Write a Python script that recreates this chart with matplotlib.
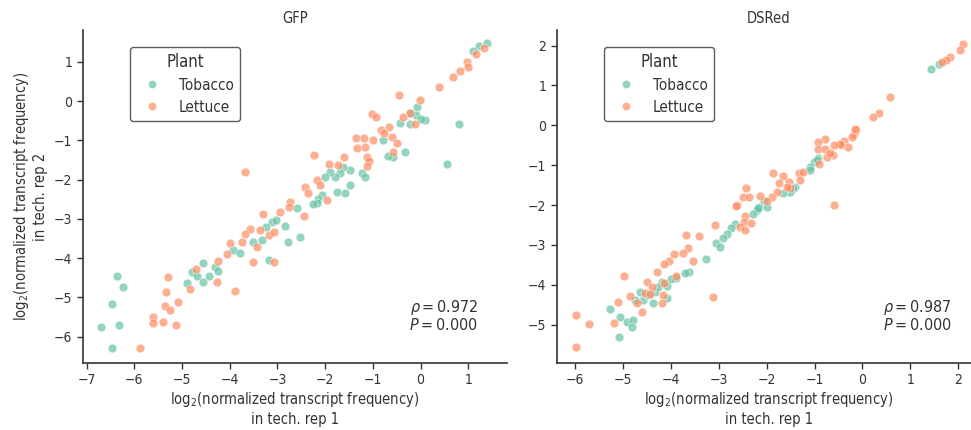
import matplotlib
matplotlib.use("Agg")
import matplotlib.pyplot as plt
from matplotlib.lines import Line2D

plt.rcParams['font.family'] = ['DejaVu Sans']
plt.rcParams['font.stretch'] = 'condensed'
plt.rcParams['mathtext.fontset'] = 'dejavusans'

plants = ['Tobacco', 'Lettuce']
plant_colors = ['#66c2a5', '#fc8d62']
panel_titles = ['GFP', 'DSRed']
rho_values = [0.972, 0.987]
p_values = [0.000, 0.000]

# GFP, tech rep 1 (x) vs tech rep 2 (y)
gfp_tobacco_x = [1.40, 1.23, 1.10, 0.81, 0.55, 0.10, -0.07, -0.22, -0.43, -0.33, -0.57, -0.69,
                 -0.78, -0.23, -0.10, 0.02, -1.48, -1.62, -1.69, -1.79, -1.90, -2.00, -1.23, -1.16,
                 -1.48, -1.76, -1.58, -2.07, -2.14, -2.17, -2.58, -2.25, -3.12, -3.03, -2.84, -3.33,
                 -2.52, -2.77, -3.17, -3.52, -3.92, -3.78, -3.23, -6.37, -6.24, -6.47, -6.33, -6.70,
                 -6.46, -4.89, -4.79, -4.69, -4.55, -4.55, -4.43, -4.31, -4.24]
gfp_tobacco_y = [1.47, 1.40, 1.28, -0.59, -1.59, -0.47, -0.16, -0.59, -0.55, -1.29, -1.43, -1.40,
                 -0.99, -0.30, -0.35, -0.45, -1.76, -1.69, -1.84, -1.93, -1.80, -1.93, -1.82, -1.93,
                 -2.14, -2.31, -2.33, -2.39, -2.50, -2.60, -2.73, -2.62, -3.07, -3.03, -3.17, -3.54,
                 -3.45, -3.60, -4.05, -3.58, -3.79, -3.86, -3.20, -4.45, -4.74, -5.17, -5.69, -5.76,
                 -6.28, -4.64, -4.34, -4.45, -4.13, -4.60, -4.45, -4.22, -4.32]
gfp_lettuce_x = [1.34, 1.17, 0.97, 1.00, 0.82, 0.68, 0.38, -0.46, -0.01, -0.23, -0.36, -1.02,
                 -0.93, -0.83, -0.67, -0.11, -0.76, -0.60, -1.36, -1.18, -1.00, -1.34, -1.16, -0.50,
                 -0.57, -1.13, -1.07, -1.13, -2.23, -1.91, -1.72, -1.60, -3.68, -2.42, -2.35, -2.17,
                 -2.11, -1.97, -2.73, -3.30, -2.94, -2.75, -2.45, -3.57, -3.36, -3.17, -3.68, -3.75,
                 -4.00, -3.43, -4.06, -3.52, -3.07, -3.08, -5.29, -5.33, -5.35, -5.26, -5.08, -5.60,
                 -5.61, -5.39, -5.12, -5.89, -4.84, -4.27, -3.89, -4.70, -4.24]
gfp_lettuce_y = [1.34, 1.20, 1.00, 0.86, 0.77, 0.62, 0.36, 0.15, 0.04, -0.30, -0.41, -0.34,
                 -0.41, -0.74, -0.65, -0.59, -0.82, -0.91, -0.95, -0.95, -0.98, -1.20, -1.16, -1.06,
                 -1.29, -1.42, -1.52, -1.65, -1.38, -1.59, -1.63, -1.43, -1.80, -2.18, -2.35, -2.01,
                 -2.14, -2.52, -2.58, -2.88, -2.82, -2.69, -2.93, -3.27, -3.28, -3.41, -3.38, -3.60,
                 -3.62, -3.72, -3.90, -4.09, -4.10, -3.34, -4.47, -4.85, -5.22, -5.32, -5.11, -5.49,
                 -5.64, -5.62, -5.70, -6.28, -4.78, -4.61, -4.83, -4.28, -4.07]

# DSRed, tech rep 1 (x) vs tech rep 2 (y)
dsred_tobacco_x = [1.44, 1.59, -0.92, -1.02, -1.09, -0.95, -1.10, -1.40, -1.44, -1.51, -1.65, -2.06,
                   -2.15, -2.20, -1.99, -2.29, -2.17, -2.66, -2.75, -2.83, -2.91, -3.05, -2.97, -3.26,
                   -3.61, -3.70, -3.89, -4.00, -4.19, -4.08, -4.33, -4.08, -4.36, -4.57, -4.74, -5.27,
                   -5.06, -4.92, -4.78, -4.81, -5.07, -4.26, -4.64, -4.47]
dsred_tobacco_y = [1.40, 1.55, -0.83, -0.91, -1.04, -0.87, -1.12, -1.54, -1.58, -1.66, -1.70, -1.91,
                   -2.04, -2.12, -2.04, -2.22, -2.08, -2.47, -2.58, -2.72, -2.83, -2.96, -3.04, -3.34,
                   -3.67, -3.71, -3.83, -3.86, -3.92, -4.02, -4.17, -4.34, -4.46, -4.38, -4.38, -4.61,
                   -4.80, -4.92, -4.88, -5.05, -5.30, -4.05, -4.17, -4.25]
dsred_lettuce_x = [2.09, 2.04, 1.82, 1.75, 1.66, 0.57, 0.34, 0.22, -0.13, -0.17, -0.22, -0.39,
                   -0.30, -0.45, -0.78, -0.92, -0.92, -0.78, -0.62, -0.74, -0.90, -0.59, -1.33, -1.23,
                   -1.65, -1.86, -1.54, -1.75, -1.52, -1.79, -1.89, -2.43, -2.50, -2.36, -2.13, -1.99,
                   -2.62, -0.15, -0.46, -0.60, -0.68, -1.31, -1.58, -2.63, -2.46, -2.48, -2.33, -2.55,
                   -2.45, -3.08, -3.68, -3.40, -3.64, -3.75, -3.53, -3.94, -4.03, -4.15, -4.29, -3.89,
                   -4.50, -4.39, -4.14, -4.97, -4.53, -4.43, -4.16, -4.85, -5.09, -4.71, -4.19, -4.60,
                   -5.18, -3.12, -5.98, -5.70, -5.98]
dsred_lettuce_y = [2.04, 1.89, 1.72, 1.64, 1.59, 0.70, 0.30, 0.20, -0.12, -0.22, -0.30, -0.39,
                   -0.55, -0.49, -0.35, -0.41, -0.60, -0.60, -0.74, -0.79, -0.97, -2.00, -1.20, -1.16,
                   -1.26, -1.20, -1.41, -1.45, -1.58, -1.66, -1.79, -1.58, -1.80, -1.80, -1.76, -1.89,
                   -2.00, -0.10, -0.47, -0.49, -0.70, -1.37, -1.54, -2.02, -2.27, -2.42, -2.46, -2.54,
                   -2.62, -2.50, -2.75, -2.77, -3.08, -3.19, -3.39, -3.23, -3.39, -3.48, -3.67, -3.77,
                   -3.92, -4.05, -3.96, -3.78, -4.20, -4.24, -4.25, -4.28, -4.42, -4.45, -4.45, -4.67,
                   -4.96, -4.30, -4.75, -4.98, -5.57]

gfp_xticks = list(range(-7, 2))
gfp_yticks = list(range(-6, 2))
dsred_xticks = list(range(-6, 3))
dsred_yticks = list(range(-5, 3))

panels = [
    ([(gfp_tobacco_x, gfp_tobacco_y), (gfp_lettuce_x, gfp_lettuce_y)],
     (-7.08, 1.81), (-6.67, 1.81), gfp_xticks, gfp_yticks),
    ([(dsred_tobacco_x, dsred_tobacco_y), (dsred_lettuce_x, dsred_lettuce_y)],
     (-6.38, 2.47), (-5.96, 2.39), dsred_xticks, dsred_yticks),
]

xlabel = 'log$_2$(normalized transcript frequency)\nin tech. rep 1'
ylabel = 'log$_2$(normalized transcript frequency)\nin tech. rep 2'

fig = plt.figure(figsize=(9.71, 4.30), dpi=100)
ax_left = [0.0852, 0.5733]
dark = '#333333'

for i, (series, xlim, ylim, xt, yt) in enumerate(panels):
    ax = fig.add_axes([ax_left[i], 0.1558, 0.4368, 0.7744])
    for (xs, ys), color in zip(series, plant_colors):
        ax.scatter(xs, ys, s=40, color=color, alpha=0.7, edgecolors='white', linewidths=0.5)
    ax.set_xlim(*xlim)
    ax.set_ylim(*ylim)
    ax.set_xticks(xt)
    ax.set_yticks(yt)
    ax.set_xticklabels([f'{v}'.replace('-', '\u2212') for v in xt])
    ax.set_yticklabels([f'{v}'.replace('-', '\u2212') for v in yt])
    ax.tick_params(labelsize=10, colors=dark, length=4, width=1)
    for side in ['top', 'right']:
        ax.spines[side].set_visible(False)
    for side in ['left', 'bottom']:
        ax.spines[side].set_color(dark)
        ax.spines[side].set_linewidth(1.2)
    ax.set_title(panel_titles[i], fontsize=10.5, color=dark, pad=5)
    ax.set_xlabel(xlabel, fontsize=10.5, color=dark, labelpad=2)
    if i == 0:
        ax.set_ylabel(ylabel, fontsize=10.5, color=dark, labelpad=4)

    handles = [Line2D([], [], marker='o', linestyle='', markersize=6, color=c, alpha=0.7,
                      markeredgecolor='white', markeredgewidth=0.5) for c in plant_colors]
    leg = ax.legend(handles, plants, title='Plant', loc='upper left',
                    bbox_to_anchor=(0.112, 0.95), borderaxespad=0, fontsize=11,
                    title_fontsize=12, frameon=True, fancybox=True, handletextpad=0.8,
                    labelspacing=0.45)
    leg.get_frame().set_edgecolor(dark)
    leg.get_frame().set_linewidth(1.0)
    for t in leg.get_texts():
        t.set_color(dark)
    leg.get_title().set_color(dark)

    ax.text(0.932, 0.09, f'$\\rho = {rho_values[i]:.3f}$\n$P = {p_values[i]:.3f}$',
            transform=ax.transAxes, ha='right', va='bottom', fontsize=11.5, color=dark,
            linespacing=1.0)

fig.savefig('out.png', dpi=100)
